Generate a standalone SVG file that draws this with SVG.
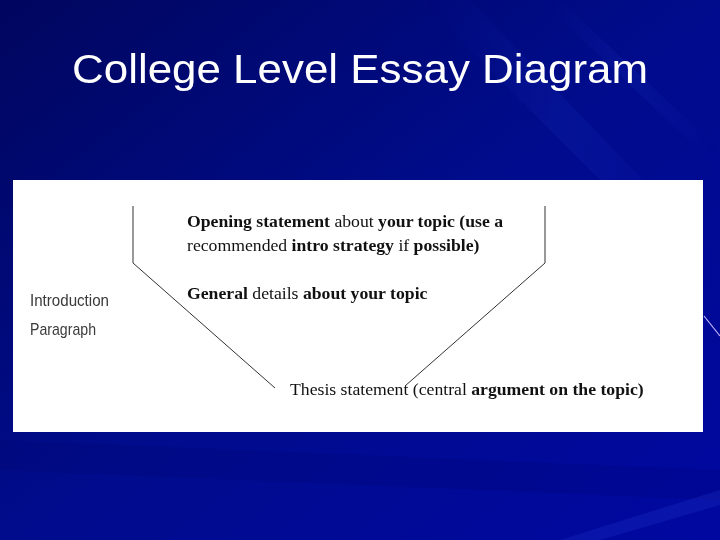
<svg xmlns="http://www.w3.org/2000/svg" width="720" height="540" viewBox="0 0 720 540">
<defs>
<linearGradient id="bg" x1="0" y1="0" x2="1" y2="1">
<stop offset="0" stop-color="#00065e"/>
<stop offset="0.5" stop-color="#000c8c"/>
<stop offset="1" stop-color="#0008a0"/>
</linearGradient>
<linearGradient id="streak" x1="0" y1="0" x2="1" y2="0">
<stop offset="0" stop-color="#3a5cff" stop-opacity="0"/>
<stop offset="0.5" stop-color="#3a5cff" stop-opacity="0.2"/>
<stop offset="1" stop-color="#3a5cff" stop-opacity="0"/>
</linearGradient>
<style>
.title{font-family:"Liberation Sans",Arial,sans-serif;font-size:40px;fill:#ffffff}
.side{font-family:"Liberation Sans",Arial,sans-serif;font-size:17px;fill:#3a3a3a}
.body{font-family:"Liberation Serif","Times New Roman",serif;font-size:17.7px;fill:#111111}
.b{font-weight:bold}
.funnel{fill:none;stroke:#333333;stroke-width:1}
</style>
</defs>
<rect x="0" y="0" width="720" height="540" fill="url(#bg)"/>
<g opacity="0.45">
<path d="M420 0 L470 0 L720 260 L720 300 Z" fill="url(#streak)"/>
<path d="M540 0 L560 0 L720 150 L720 170 Z" fill="url(#streak)"/>
<path d="M0 440 L720 470 L720 500 L0 470 Z" fill="#000060" opacity="0.35"/>
<path d="M560 540 L720 490 L720 505 L600 540 Z" fill="#4a6cff" opacity="0.3"/>
</g>
<line x1="704" y1="316" x2="720" y2="336" stroke="#c8b8ff" stroke-width="1.2"/>
<text class="title" x="72" y="83" textLength="576" lengthAdjust="spacingAndGlyphs">College Level Essay Diagram</text>
<rect x="13" y="180" width="690" height="252" fill="#ffffff"/>
<g id="connectors">
<polyline class="funnel" points="133,206 133,263 275,388"/>
<polyline class="funnel" points="545,206 545,263 405,386"/>
</g>
<g id="intro-label">
<text class="side" x="30" y="306" textLength="79" lengthAdjust="spacingAndGlyphs">Introduction</text>
<text class="side" x="30" y="335" textLength="66" lengthAdjust="spacingAndGlyphs">Paragraph</text>
</g>
<g id="opening">
<text class="body" x="187" y="227"><tspan class="b">Opening statement</tspan> about <tspan class="b">your topic (use a</tspan></text>
<text class="body" x="187" y="251">recommended <tspan class="b">intro strategy</tspan> if <tspan class="b">possible)</tspan></text>
</g>
<g id="general">
<text class="body" x="187" y="299"><tspan class="b">General</tspan> details <tspan class="b">about your topic</tspan></text>
</g>
<g id="thesis">
<text class="body" x="290" y="395">Thesis statement (central <tspan class="b">argument on the topic)</tspan></text>
</g>
</svg>
